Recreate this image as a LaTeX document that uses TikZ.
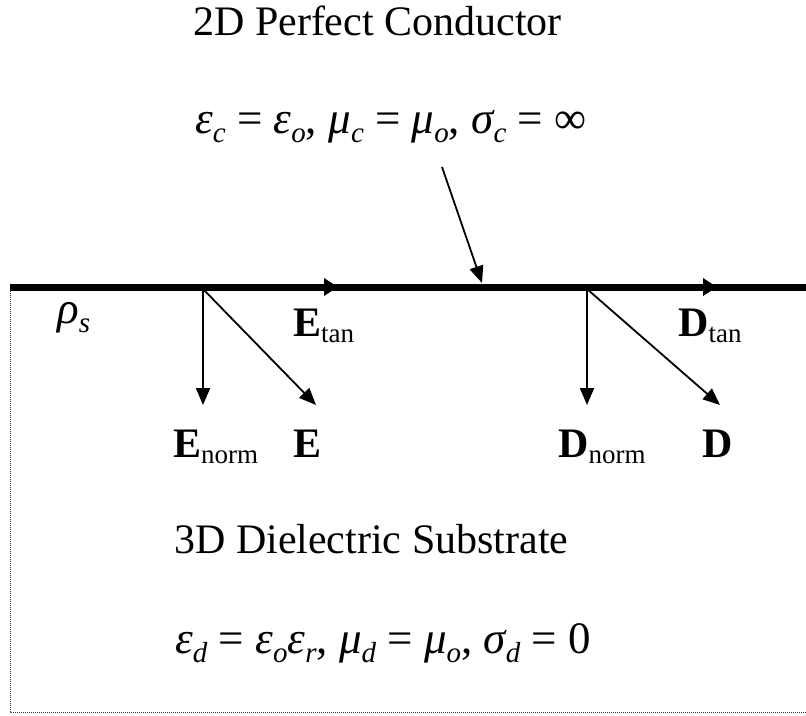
\documentclass[tikz,border=0pt]{standalone}
\usepackage{fontspec}
\setmainfont{Liberation Serif}
\usetikzlibrary{arrows.meta}
\newcommand{\vsub}[2]{\textbf{#1}\raisebox{-6pt}{\fontsize{27}{30}\selectfont #2}}
\newcommand{\gsub}[1]{\raisebox{-9pt}{\fontsize{29}{30}\selectfont\itshape #1}}
\newcommand{\gk}[1]{{\itshape #1}}
\begin{document}
\begin{tikzpicture}[x=1pt,y=-1pt,
  txt/.style={inner sep=0pt,anchor=base west,font=\fontsize{42}{50}\selectfont},
  formula/.style={txt,font=\fontsize{45}{50}\selectfont},
  conductor/.style={line width=7pt},
  thinarrow/.style={line width=1.8pt,-{Triangle[length=17pt,width=14pt]}},
  tanhead/.style={line width=7pt,-{Triangle[length=14pt,width=17pt]}},
  border/.style={line width=1pt,dash pattern=on 1pt off 1pt,black!80}]
\useasboundingbox (0,0) rectangle (806,715);
% coordinates
\coordinate (L) at (10,287);
\coordinate (R) at (810,287);
\coordinate (T1a) at (315,287);
\coordinate (T1) at (338,287);
\coordinate (T2a) at (694,287);
\coordinate (T2) at (717,287);
\coordinate (Eo) at (203,289);
\coordinate (Do) at (587,289);
\coordinate (En) at (203,405);
\coordinate (Ed) at (316,405);
\coordinate (Dn) at (587,405);
\coordinate (Dd) at (720,405);
\coordinate (Cs) at (442,167);
\coordinate (Ct) at (482,283);
\coordinate (BL) at (10,712);
\coordinate (BR) at (806,712);
% dotted substrate border
\draw[border] (L) -- (BL) -- (BR);
% conductor line with tangential arrows
\draw[conductor] (L) -- (R);
\draw[tanhead] (T1a) -- (T1);
\draw[tanhead] (T2a) -- (T2);
% field arrows
\draw[thinarrow] (Eo) -- (En);
\draw[thinarrow] (Eo) -- (Ed);
\draw[thinarrow] (Do) -- (Dn);
\draw[thinarrow] (Do) -- (Dd);
\draw[thinarrow] (Cs) -- (Ct);
% texts
\node[txt] (title) at (193,35) {2D Perfect Conductor};
\node[formula] (fc) at (195,133) {\gk{ε}\gsub{c} = \gk{ε}\gsub{o}, \gk{μ}\gsub{c} = \gk{μ}\gsub{o}, \gk{σ}\gsub{c} = ∞};
\node[formula] (rho) at (57,323) {\gk{ρ}\gsub{s}};
\node[txt] (Etan) at (293,336) {\vsub{E}{tan}};
\node[txt] (Dtan) at (678,336) {\vsub{D}{tan}};
\node[txt] (Enorm) at (173,457) {\vsub{E}{norm}};
\node[txt] (E) at (293,457) {\textbf{E}};
\node[txt] (Dnorm) at (558,457) {\vsub{D}{norm}};
\node[txt] (D) at (702,457) {\textbf{D}};
\node[txt] (sub) at (174,553) {3D Dielectric Substrate};
\node[formula] (fd) at (175,653) {\gk{ε}\gsub{d} = \gk{ε}\gsub{o}\gk{ε}\gsub{r}, \gk{μ}\gsub{d} = \gk{μ}\gsub{o}, \gk{σ}\gsub{d} = 0};
\end{tikzpicture}
\end{document}
